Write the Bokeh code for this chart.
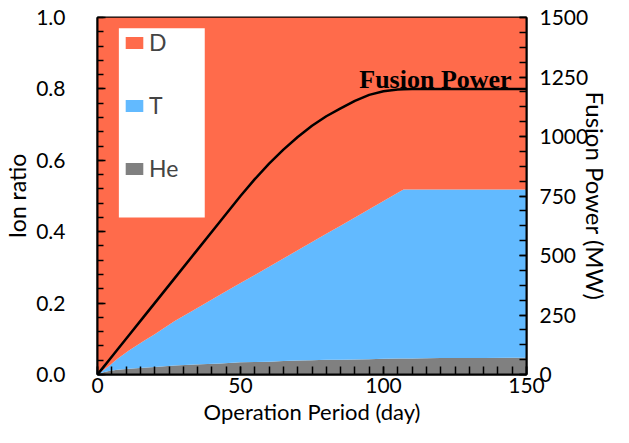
from bokeh.plotting import figure
from bokeh.models import (Range1d, LinearAxis, FixedTicker, Legend, LegendItem,
                          BoxAnnotation, Label, ColumnDataSource, PrintfTickFormatter)
from bokeh.embed import file_html
from bokeh.resources import INLINE

# ---- data ----
days = [0, 2, 4, 7, 11, 16, 20, 27, 34, 43, 50, 55, 60, 65, 70, 75, 80, 85, 90, 95,
        100, 105, 107, 110, 120, 135, 150]
he_ratio = [0.0, 0.006, 0.010, 0.013, 0.016, 0.019, 0.021, 0.025, 0.028, 0.031, 0.034, 0.035,
            0.036, 0.038, 0.039, 0.040, 0.041, 0.041, 0.042, 0.043, 0.044, 0.045, 0.045,
            0.045, 0.046, 0.046, 0.047]
t_ratio = [0.0, 0.006, 0.014, 0.031, 0.051, 0.074, 0.092, 0.125, 0.154, 0.193, 0.222, 0.244,
           0.266, 0.287, 0.309, 0.331, 0.353, 0.376, 0.398, 0.420, 0.442, 0.464, 0.473,
           0.473, 0.472, 0.472, 0.471]
fusion_power = [0, 30, 60, 105, 165, 240, 300, 405, 510, 645, 750, 821, 886, 945, 998, 1045,
                1085, 1118, 1150, 1175, 1190, 1197, 1199, 1200, 1200, 1200, 1200]
d_ratio = [1.0 - h - t for h, t in zip(he_ratio, t_ratio)]

x_ticks = [0, 50, 100, 150]
y_ticks = [0.0, 0.2, 0.4, 0.6, 0.8, 1.0]
p_ticks = [0, 250, 500, 750, 1000, 1250, 1500]

COL_D = "#FF6B4B"
COL_T = "#62BAFF"
COL_HE = "#808080"
FONT = "Lato"

src = ColumnDataSource(dict(days=days, He=he_ratio, T=t_ratio, D=d_ratio, P=fusion_power))

p = figure(width=613, height=427, output_backend="svg", toolbar_location=None,
           x_range=Range1d(0, 150), y_range=Range1d(0, 1),
           min_border_left=60, min_border_right=60, min_border_top=17, min_border_bottom=40)
p.background_fill_color = "white"
p.border_fill_color = "white"
p.outline_line_color = "black"
p.outline_line_width = 2
p.xgrid.visible = False
p.ygrid.visible = False

rs = p.varea_stack(["He", "T", "D"], x="days", source=src, color=[COL_HE, COL_T, COL_D])

p.extra_y_ranges = {"power": Range1d(0, 1500)}
p.line("days", "P", source=src, y_range_name="power", line_color="black", line_width=2.5)


def style_axis(ax, standoff, tick_len, title_size, title_standoff):
    ax.axis_line_color = "black"
    ax.axis_line_width = 2
    ax.major_tick_in = tick_len
    ax.major_tick_out = 0
    ax.minor_tick_in = tick_len - 2
    ax.minor_tick_out = 0
    ax.major_tick_line_color = "black"
    ax.minor_tick_line_color = "black"
    ax.major_tick_line_width = 1.5
    ax.minor_tick_line_width = 1.5
    ax.major_label_text_font = FONT
    ax.major_label_text_font_size = "21px"
    ax.major_label_text_color = "black"
    ax.major_label_standoff = standoff
    ax.axis_label_text_font = FONT
    ax.axis_label_text_font_size = title_size
    ax.axis_label_text_font_style = "normal"
    ax.axis_label_text_color = "black"
    ax.axis_label_standoff = title_standoff


xa = p.xaxis[0]
xa.ticker = FixedTicker(ticks=x_ticks, minor_ticks=list(range(0, 151, 5)))
xa.axis_label = "Operation Period (day)"
style_axis(xa, 3, 8, "22px", 2)
xa.minor_tick_in = 8

ya = p.yaxis[0]
ya.ticker = FixedTicker(ticks=y_ticks, minor_ticks=[i * 0.04 for i in range(26)])
ya.formatter = PrintfTickFormatter(format="%.1f")
ya.axis_label = "Ion ratio"
style_axis(ya, 32, 8, "23px", 2)

ra = LinearAxis(y_range_name="power", axis_label="Fusion Power (MW)")
ra.ticker = FixedTicker(ticks=p_ticks, minor_ticks=[i * 62.5 for i in range(25)])
style_axis(ra, 13, 7, "24px", -10)
ra.minor_tick_in = 7
p.add_layout(ra, "right")

# legend background box
p.add_layout(BoxAnnotation(left=7.47, right=37.5, bottom=0.44, top=0.97,
                           fill_color="white", fill_alpha=1.0, line_alpha=0))

legend = Legend(items=[LegendItem(label="D", renderers=[rs[2]]),
                       LegendItem(label="T", renderers=[rs[1]]),
                       LegendItem(label="He", renderers=[rs[0]])],
                location=(26, 192), padding=0, margin=0, spacing=35,
                glyph_width=22, glyph_height=15, label_height=22, label_standoff=4,
                label_text_font=FONT, label_text_font_size="23px",
                background_fill_alpha=0, border_line_alpha=0)
p.add_layout(legend, "center")

p.add_layout(Label(x=144.8, y=0.826, text="Fusion Power", text_align="right",
                   text_baseline="alphabetic", text_font="Liberation Serif",
                   text_font_style="bold", text_font_size="26px", text_color="black"))

open("out.html", "w").write(file_html(p, INLINE))
